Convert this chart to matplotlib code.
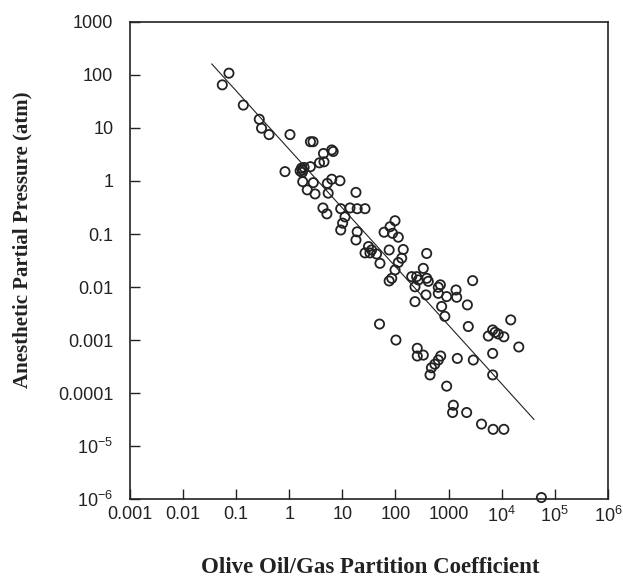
import matplotlib
matplotlib.use("Agg")
import matplotlib.pyplot as plt
import numpy as np

# olive oil/gas partition coefficient vs anesthetic partial pressure (atm)
partition = [0.0547, 0.073, 0.136, 0.272, 0.30, 0.415, 1.03, 0.83,
             2.5, 2.8, 4.4, 6.3, 6.7, 3.7, 4.5,
             1.6, 1.7, 1.8, 1.9, 1.75, 2.5,
             1.79, 2.83, 2.18, 3.05,
             5.2, 6.3, 9.0, 5.4, 18, 4.3, 5.1,
             9.3, 13.9, 19, 26.7, 11.2, 10.1, 9.3, 19, 18,
             31, 33, 44, 26.7, 35.5, 51, 76,
             79, 98, 61, 88, 113,
             140, 131, 113, 98, 85, 76, 387,
             334, 250, 270, 233, 202, 387, 415, 700,
             640, 640, 920, 1380, 1420, 233, 375, 740, 850,
             2840, 2260, 2350,
             1.48e4, 5600, 6760, 7500, 8630, 1.1e4,
             2.1e4, 6760, 6760, 2920, 1460,
             50, 102, 257, 257, 334,
             710, 640, 550, 475, 447,
             920, 1230, 1190, 2190, 4170, 6900, 1.1e4,
             5.6e4]
pressure = [65, 108, 27, 14.6, 9.9, 7.5, 7.5, 1.5,
            5.5, 5.5, 3.3, 3.85, 3.6, 2.2, 2.3,
            1.55, 1.75, 1.6, 1.8, 1.45, 1.86,
            0.97, 0.93, 0.68, 0.57,
            0.90, 1.08, 1.01, 0.59, 0.61, 0.31, 0.24,
            0.30, 0.31, 0.30, 0.30, 0.21, 0.16, 0.119, 0.11, 0.077,
            0.058, 0.044, 0.042, 0.044, 0.05, 0.028, 0.05,
            0.137, 0.178, 0.108, 0.103, 0.087,
            0.051, 0.035, 0.029, 0.021, 0.0146, 0.013, 0.043,
            0.0225, 0.0157, 0.0136, 0.0101, 0.0157, 0.0146, 0.0128, 0.011,
            0.0099, 0.0076, 0.0066, 0.0088, 0.0064, 0.0053, 0.0071, 0.0043, 0.0028,
            0.0132, 0.0046, 0.0018,
            0.0024, 0.00119, 0.00155, 0.0014, 0.0013, 0.00115,
            0.00074, 0.00056, 0.00022, 0.00042, 0.00045,
            0.002, 0.001, 0.0007, 0.0005, 0.00052,
            0.0005, 0.00042, 0.00035, 0.0003, 0.00022,
            0.000135, 5.9e-5, 4.3e-5, 4.3e-5, 2.6e-5, 2.07e-5, 2.07e-5,
            1.07e-6]

fit_x = [0.0347, 4.06e4]
fit_y = [161, 3.18e-5]

xticks = [1e-3, 1e-2, 1e-1, 1, 10, 100, 1000, 1e4, 1e5, 1e6]
xlabels = ['0.001', '0.01', '0.1', '1', '10', '100', '1000',
           r'$\mathregular{10^4}$', r'$\mathregular{10^5}$', r'$\mathregular{10^6}$']
yticks = [1e-6, 1e-5, 1e-4, 1e-3, 1e-2, 1e-1, 1, 10, 100, 1000]
ylabels = [r'$\mathregular{10^{-6}}$', r'$\mathregular{10^{-5}}$', '0.0001', '0.001',
           '0.01', '0.1', '1', '10', '100', '1000']

plt.rcParams['font.family'] = 'Liberation Sans'
plt.rcParams['mathtext.default'] = 'regular'

fig = plt.figure(figsize=(6.23, 5.77), dpi=100)
ax = fig.add_axes([0.2087, 0.135, 0.767, 0.827])

ax.plot(fit_x, fit_y, color='#222222', lw=0.8)
ax.scatter(partition, pressure, s=44, facecolors='none', edgecolors='#222222',
           linewidths=1.3, clip_on=False, zorder=3)

ax.set_xscale('log')
ax.set_yscale('log')
ax.set_xlim(1e-3, 1e6)
ax.set_ylim(1e-6, 1000)
ax.set_xticks(xticks)
ax.set_xticklabels(xlabels)
ax.set_yticks(yticks)
ax.set_yticklabels(ylabels)
ax.minorticks_off()
ax.tick_params(direction='in', length=7, width=1, labelsize=13, color='#222222',
               labelcolor='#222222')
ax.tick_params(axis='x', pad=5)
ax.tick_params(axis='y', pad=12)
for sp in ax.spines.values():
    sp.set_linewidth(1.2)
    sp.set_color('#222222')

ax.set_xlabel('Olive Oil/Gas Partition Coefficient', fontsize=16.5,
              family='Liberation Serif', fontweight='bold', color='#222222')
ax.set_ylabel('Anesthetic Partial Pressure (atm)', fontsize=15,
              family='Liberation Serif', fontweight='bold', color='#222222')
ax.xaxis.set_label_coords(0.502, -0.122)
ax.yaxis.set_label_coords(-0.205, 0.543)

fig.savefig('out.png', dpi=100)
